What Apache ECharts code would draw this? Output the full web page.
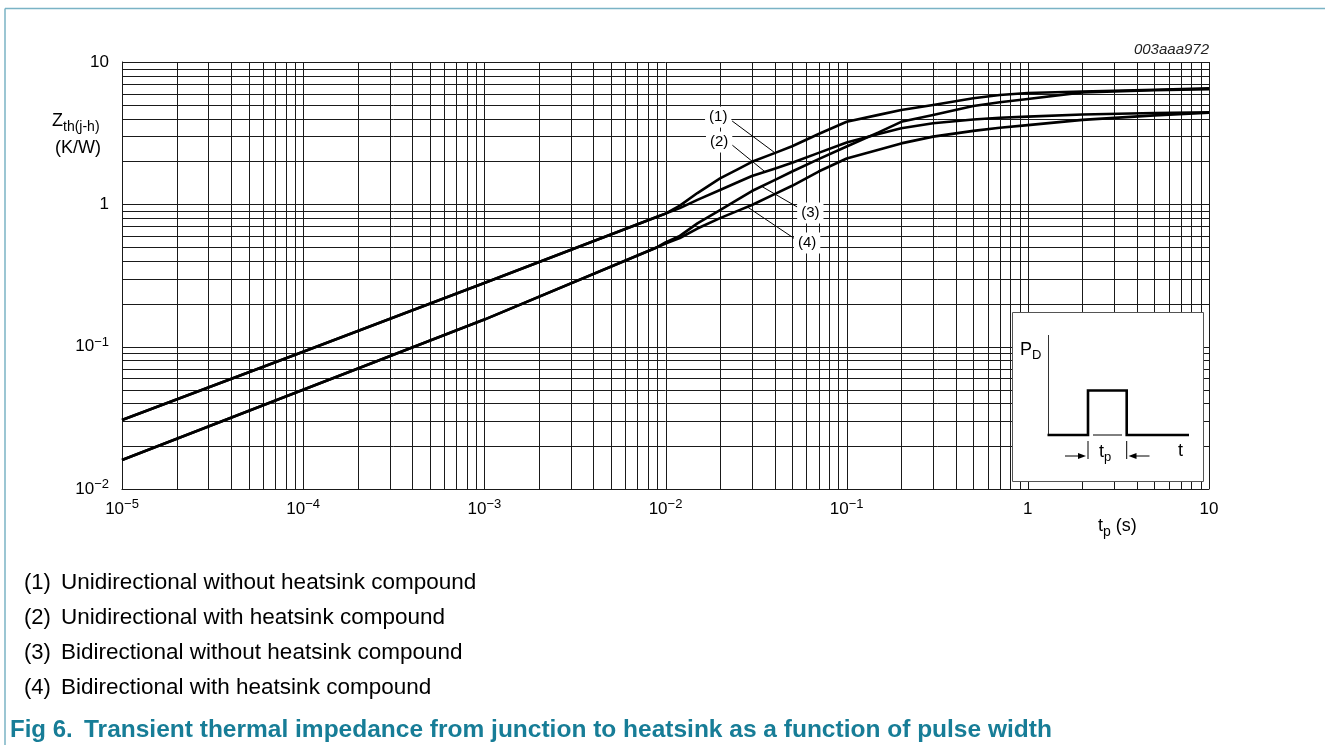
<!DOCTYPE html>
<html><head><meta charset="utf-8">
<script src="https://cdn.jsdelivr.net/npm/echarts@6/dist/echarts.min.js"></script>
<style>html,body{margin:0;padding:0;background:#fff}#c{width:1325px;height:745px}</style>
</head><body><div id="c"></div>
<script>
// ---------- data ----------
const tp = [1e-5, 1e-4, 1e-3, 0.009, 0.01, 0.012, 0.015, 0.02, 0.025, 0.03, 0.04, 0.05, 0.07, 0.1, 0.15, 0.2, 0.3, 0.5, 0.7, 1, 2, 5, 10];
const zth1 = [0.0305, 0.092, 0.28, 0.818, 0.86, 0.98, 1.20, 1.52, 1.76, 1.99, 2.29, 2.56, 3.12, 3.80, 4.25, 4.60, 4.99, 5.56, 5.86, 6.05, 6.20, 6.38, 6.53];
const zth2 = [0.0305, 0.092, 0.28, 0.818, 0.86, 0.94, 1.075, 1.26, 1.43, 1.58, 1.78, 1.96, 2.30, 2.72, 3.12, 3.42, 3.71, 3.94, 4.06, 4.13, 4.28, 4.38, 4.44];
const zth3 = [0.016, 0.0498, 0.155, 0.50, 0.54, 0.60, 0.735, 0.912, 1.08, 1.24, 1.48, 1.70, 2.08, 2.55, 3.20, 3.80, 4.24, 4.91, 5.21, 5.50, 6.12, 6.33, 6.45];
const zth4 = [0.016, 0.0498, 0.155, 0.50, 0.53, 0.58, 0.676, 0.80, 0.90, 0.99, 1.18, 1.35, 1.70, 2.10, 2.42, 2.68, 2.99, 3.28, 3.45, 3.60, 3.92, 4.22, 4.40];
const curveTags = ['(1)', '(2)', '(3)', '(4)'];
const legendTexts = ['Unidirectional without heatsink compound', 'Unidirectional with heatsink compound', 'Bidirectional without heatsink compound', 'Bidirectional with heatsink compound'];
const xTickExp = [-5, -4, -3, -2, -1, 0, 1];
const xTickLabels = ['10{s|−5}', '10{s|−4}', '10{s|−3}', '10{s|−2}', '10{s|−1}', '1', '10'];
const yTickExp = [-2, -1, 0, 1];
const yTickLabels = ['10{s|−2}', '10{s|−1}', '1', '10'];
const gridMultipliers = [1, 2, 3, 4, 5, 6, 7, 8, 9];
const figCode = '003aaa972';
const captionNo = 'Fig 6.';
const captionText = 'Transient thermal impedance from junction to heatsink as a function of pulse width';

// ---------- layout ----------
const FONT = '"Liberation Sans", Arial, Helvetica, sans-serif';
const annot = [ // label anchor + leader line in data coordinates
  { at: [0.01954, 4.10], from: [0.02333, 3.85], to: [0.0404, 2.29] },
  { at: [0.01977, 2.74], from: [0.02333, 2.61], to: [0.0355, 1.69] },
  { at: [0.0630, 0.869], from: [0.0534, 0.957], to: [0.0342, 1.33] },
  { at: [0.0605, 0.535], from: [0.0520, 0.570], to: [0.02825, 0.96] }
];

function gridValues(minExp, maxExp) {
  const out = [];
  for (let e = minExp; e < maxExp; e++) for (const m of gridMultipliers) out.push(m * Math.pow(10, e));
  out.push(Math.pow(10, maxExp));
  return out;
}
function pair(xs, ys) { return xs.map((x, i) => [x, ys[i]]); }
const crisp = v => Math.round(v) + 0.5;

const chart = echarts.init(document.getElementById('c'));
const supRich = { s: { fontSize: 13, fontFamily: FONT, color: '#000', verticalAlign: 'top', lineHeight: 12 } };
const gridStroke = { stroke: '#1a1a1a', lineWidth: 1 };

const curveSeries = [zth1, zth2, zth3, zth4].map((z, i) => ({
  name: curveTags[i], type: 'line', data: pair(tp, z), symbol: 'none', showSymbol: false,
  smooth: false, lineStyle: { color: '#000', width: 2.6, join: 'round' }, z: 3,
  emphasis: { disabled: true }, animation: false
}));

const gridSeries = [
  {
    type: 'custom', z: 1, silent: true, animation: false, clip: false,
    data: gridValues(-5, 1).map(v => [v, 1]), encode: { x: 0, y: 1 },
    renderItem: (params, api) => {
      const cs = params.coordSys; const x = crisp(api.coord([api.value(0), 1])[0]);
      return { type: 'line', shape: { x1: x, y1: cs.y, x2: x, y2: cs.y + cs.height }, style: gridStroke };
    }
  },
  {
    type: 'custom', z: 1, silent: true, animation: false, clip: false,
    data: gridValues(-2, 1).map(v => [1, v]), encode: { x: 0, y: 1 },
    renderItem: (params, api) => {
      const cs = params.coordSys; const y = crisp(api.coord([1, api.value(1)])[1]);
      return { type: 'line', shape: { x1: cs.x, y1: y, x2: cs.x + cs.width, y2: y }, style: gridStroke };
    }
  }
];

chart.setOption({
  backgroundColor: '#fff',
  animation: false,
  grid: { left: 122, right: 116, top: 62, bottom: 256 },
  xAxis: {
    type: 'log', logBase: 10, min: 1e-5, max: 10,
    axisLine: { show: true, lineStyle: { color: '#000', width: 1 } },
    axisTick: { show: false }, splitLine: { show: false }, minorTick: { show: false },
    axisLabel: {
      margin: 9, fontSize: 17, fontFamily: FONT, color: '#000', lineHeight: 22, rich: supRich,
      formatter: v => { const i = xTickExp.indexOf(Math.round(Math.log10(v))); return i >= 0 ? xTickLabels[i] : ''; }
    }
  },
  yAxis: {
    type: 'log', logBase: 10, min: 0.01, max: 10,
    axisLine: { show: true, lineStyle: { color: '#000', width: 1 } },
    axisTick: { show: false }, splitLine: { show: false }, minorTick: { show: false },
    axisLabel: {
      margin: 13, fontSize: 17, fontFamily: FONT, color: '#000', lineHeight: 22, rich: supRich,
      formatter: v => { const i = yTickExp.indexOf(Math.round(Math.log10(v))); return i >= 0 ? yTickLabels[i] : ''; }
    }
  },
  series: gridSeries.concat(curveSeries)
});

// ---------- annotations & decorations ----------
const G = [];
const Z = 100;
function line(x1, y1, x2, y2, w, c) { G.push({ type: 'line', z: Z, silent: true, shape: { x1, y1, x2, y2 }, style: { stroke: c || '#000', lineWidth: w || 1 } }); }
function text(x, y, t, opt) {
  G.push({ type: 'text', z: Z + 1, silent: true, x, y, style: Object.assign({ text: t, fill: '#000', fontFamily: FONT, fontSize: 17, align: 'left', verticalAlign: 'middle' }, opt || {}) });
}
// page frame
line(5, 8.5, 1325, 8.5, 1.5, '#7ab3c5');
line(5, 8.5, 5, 745, 1.5, '#7ab3c5');

// curve tags with leaders
annot.forEach((a, i) => {
  const p = chart.convertToPixel({ gridIndex: 0 }, a.at);
  const f = chart.convertToPixel({ gridIndex: 0 }, a.from);
  const t = chart.convertToPixel({ gridIndex: 0 }, a.to);
  line(f[0], f[1], t[0], t[1], 1, '#000');
  text(p[0], p[1], curveTags[i], { fontSize: 15, align: 'center', backgroundColor: '#fff', padding: [3, 4, 3, 4] });
});

// axis titles
const subRich = { a: { fontSize: 18, fontFamily: FONT, lineHeight: 26 }, b: { fontSize: 14, fontFamily: FONT, lineHeight: 12, verticalAlign: 'bottom' } };
text(52, 121, '{a|Z}{b|th(j-h)}', { rich: subRich });
text(55, 148, '(K/W)', { fontSize: 18 });
text(1098, 526, '{a|t}{b|p}{a| (s)}', { rich: subRich });
text(1209, 50, figCode, { fontSize: 15, fontStyle: 'italic', align: 'right', fill: '#222' });

// inset pulse diagram
G.push({ type: 'rect', z: Z, silent: true, shape: { x: 1012.5, y: 312.5, width: 191, height: 169 }, style: { fill: '#fff', stroke: '#555', lineWidth: 1 } });
line(1048.5, 335, 1048.5, 435, 1, '#333');
G.push({ type: 'polyline', z: Z, silent: true, shape: { points: [[1047.5, 435], [1088, 435], [1088, 390.5], [1126.7, 390.5], [1126.7, 435], [1189, 435]] }, style: { stroke: '#000', lineWidth: 2.6, fill: null, lineJoin: 'miter' } });
line(1093, 435, 1122, 435, 1, '#000');
line(1088, 441, 1088, 459, 1, '#000');
line(1126.7, 441, 1126.7, 459, 1, '#000');
line(1065, 456, 1080, 456, 1, '#000');
G.push({ type: 'polygon', z: Z, silent: true, shape: { points: [[1086, 456], [1078, 453], [1078, 459]] }, style: { fill: '#000' } });
line(1134.5, 456, 1149.5, 456, 1, '#000');
G.push({ type: 'polygon', z: Z, silent: true, shape: { points: [[1128.5, 456], [1136.5, 453], [1136.5, 459]] }, style: { fill: '#000' } });
const insetRich = { a: { fontSize: 18, fontFamily: FONT, lineHeight: 24 }, b: { fontSize: 13, fontFamily: FONT, lineHeight: 12, verticalAlign: 'bottom' } };
text(1020, 350, '{a|P}{b|D}', { rich: insetRich });
text(1099, 452, '{a|t}{b|p}', { rich: insetRich });
text(1178, 451, 't', { fontSize: 18 });

// legend lines
const rowY = [583, 618, 653, 688];
legendTexts.forEach((s, i) => {
  text(24, rowY[i], curveTags[i], { fontSize: 22 });
  text(61, rowY[i], s, { fontSize: 22.5 });
});
// caption
text(10, 730, captionNo, { fontSize: 24, fontWeight: 'bold', fill: '#177d97' });
text(84, 730, captionText, { fontSize: 24.5, fontWeight: 'bold', fill: '#177d97' });

chart.setOption({ graphic: { elements: G } });
</script></body></html>
